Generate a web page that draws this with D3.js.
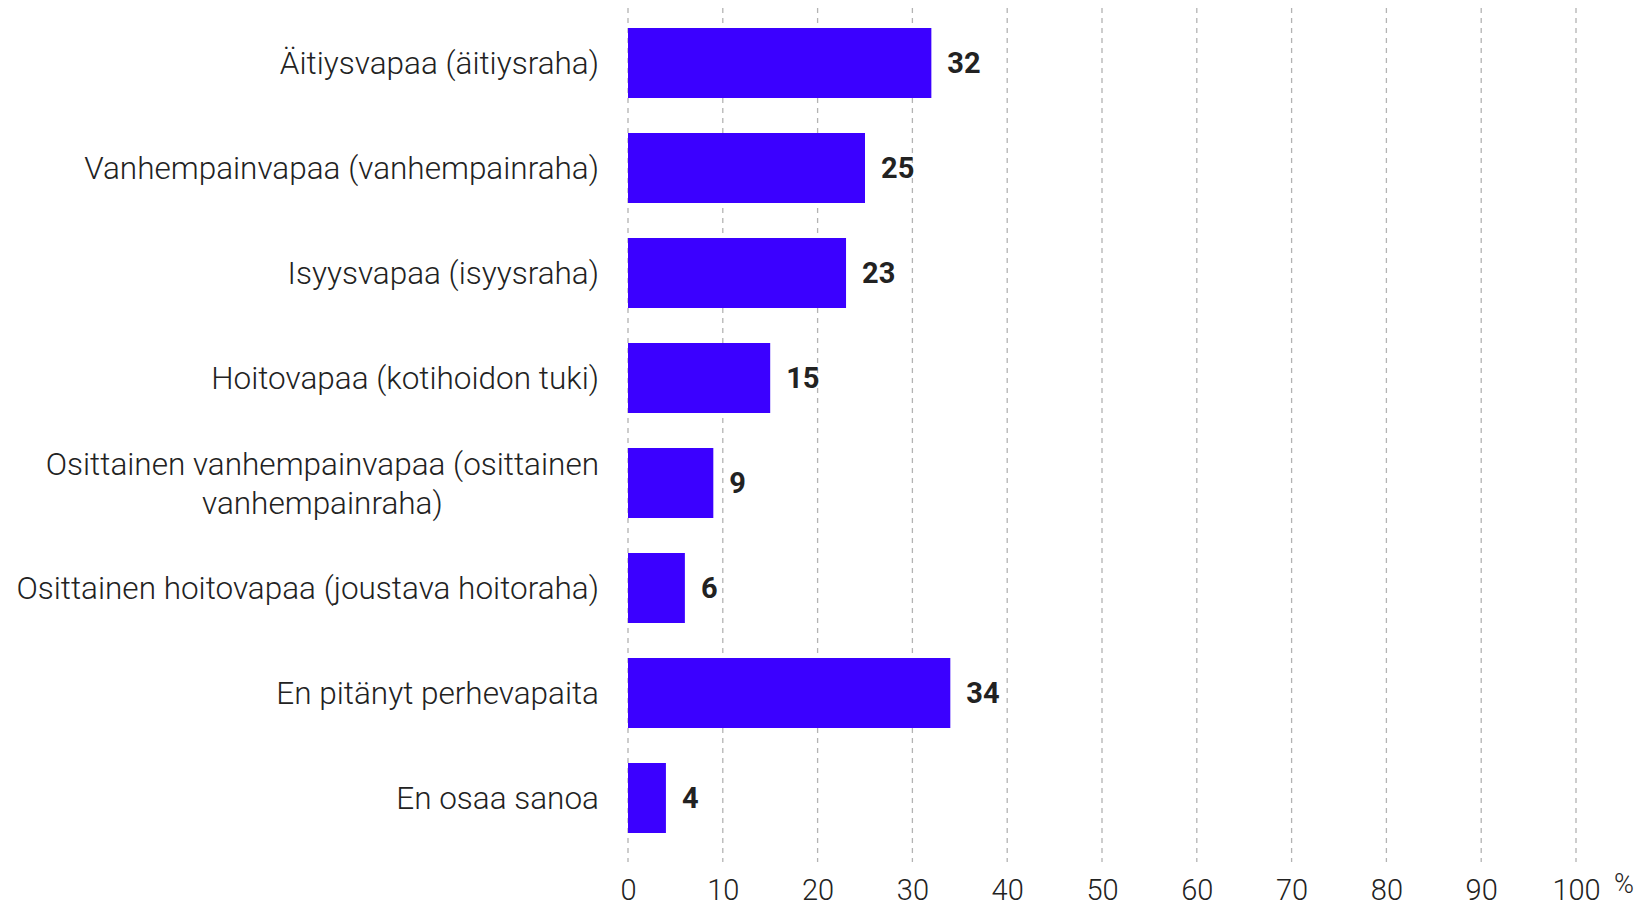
<!DOCTYPE html>
<html>
<head>
<meta charset="utf-8">
<script src="https://cdn.jsdelivr.net/npm/d3@7"></script>
<style>
  html, body { margin: 0; padding: 0; background: #fff; }
  svg { display: block; font-family: Roboto, "Noto Sans", sans-serif; }
</style>
</head>
<body>
<svg id="chart" width="1643" height="907"></svg>
<script>
// Family leave types taken (%)
const categories = [
  "Äitiysvapaa (äitiysraha)",
  "Vanhempainvapaa (vanhempainraha)",
  "Isyysvapaa (isyysraha)",
  "Hoitovapaa (kotihoidon tuki)",
  "Osittainen vanhempainvapaa (osittainen vanhempainraha)",
  "Osittainen hoitovapaa (joustava hoitoraha)",
  "En pitänyt perhevapaita",
  "En osaa sanoa"
];
const values = [32, 25, 23, 15, 9, 6, 34, 4];
const xTicks = [0, 10, 20, 30, 40, 50, 60, 70, 80, 90, 100];
const unitLabel = "%";

const svg = d3.select("#chart");
const left = 628, right = 1576;
const barColor = "#3b00ff";
const labelFont = 31.5;

const x = d3.scaleLinear().domain([0, 100]).range([left, right]);
const y = d3.scaleBand().domain(categories).range([10.5, 850.5])
  .paddingInner(1 / 3).paddingOuter(1 / 6);

// dashed vertical gridlines
svg.append("g").selectAll("line").data(xTicks).join("line")
  .attr("x1", d => x(d)).attr("x2", d => x(d))
  .attr("y1", 8).attr("y2", 862)
  .attr("stroke", "#b3b3b3").attr("stroke-width", 1.3)
  .attr("stroke-dasharray", "5,5");

// x-axis tick labels
const xAxis = d3.axisBottom(x).tickValues(xTicks).tickSize(0).tickPadding(0);
const gx = svg.append("g").attr("transform", "translate(0,879)").call(xAxis);
gx.select(".domain").remove();
gx.selectAll("text")
  .attr("font-family", "Roboto, sans-serif")
  .attr("font-size", 29).attr("font-weight", 300)
  .attr("fill", "#222").attr("dy", "0.71em");

svg.append("text")
  .attr("x", 1624).attr("y", 893)
  .attr("text-anchor", "middle")
  .attr("font-size", 27).attr("font-weight", 300).attr("fill", "#222")
  .text(unitLabel);

// bars
svg.append("g").selectAll("rect").data(values).join("rect")
  .attr("x", x(0))
  .attr("y", (d, i) => y(categories[i]))
  .attr("width", d => x(d) - x(0))
  .attr("height", y.bandwidth())
  .attr("fill", barColor);

// value labels
svg.append("g").selectAll("text").data(values).join("text")
  .attr("x", d => x(d) + 16)
  .attr("y", (d, i) => y(categories[i]) + y.bandwidth() / 2)
  .attr("dy", "0.36em")
  .attr("font-size", 29).attr("font-weight", 700).attr("fill", "#222")
  .text(d => d);

// category labels, wrapped and right-aligned to the block edge
const labelRight = 599, maxWidth = 600, lineHeight = 39;
const gy = svg.append("g");
categories.forEach(cat => {
  const t = gy.append("text")
    .attr("font-size", labelFont).attr("font-weight", 300).attr("fill", "#222");
  const words = cat.split(" ");
  const lines = [];
  let cur = [];
  const probe = t.append("tspan");
  words.forEach(w => {
    const test = cur.concat(w).join(" ");
    probe.text(test);
    if (cur.length && probe.node().getComputedTextLength() > maxWidth) {
      lines.push(cur.join(" "));
      cur = [w];
    } else cur.push(w);
  });
  lines.push(cur.join(" "));
  probe.remove();
  const widths = lines.map(l => {
    const s = t.append("tspan").text(l);
    const w = s.node().getComputedTextLength();
    s.remove();
    return w;
  });
  const blockW = d3.max(widths);
  const cx = labelRight - blockW / 2;
  const cy = y(cat) + y.bandwidth() / 2;
  const y0 = cy - (lines.length - 1) * lineHeight / 2;
  t.attr("text-anchor", "middle");
  lines.forEach((l, i) => {
    t.append("tspan").attr("x", cx).attr("y", y0 + i * lineHeight)
      .attr("dy", "0.35em").text(l);
  });
});
</script>
</body>
</html>
